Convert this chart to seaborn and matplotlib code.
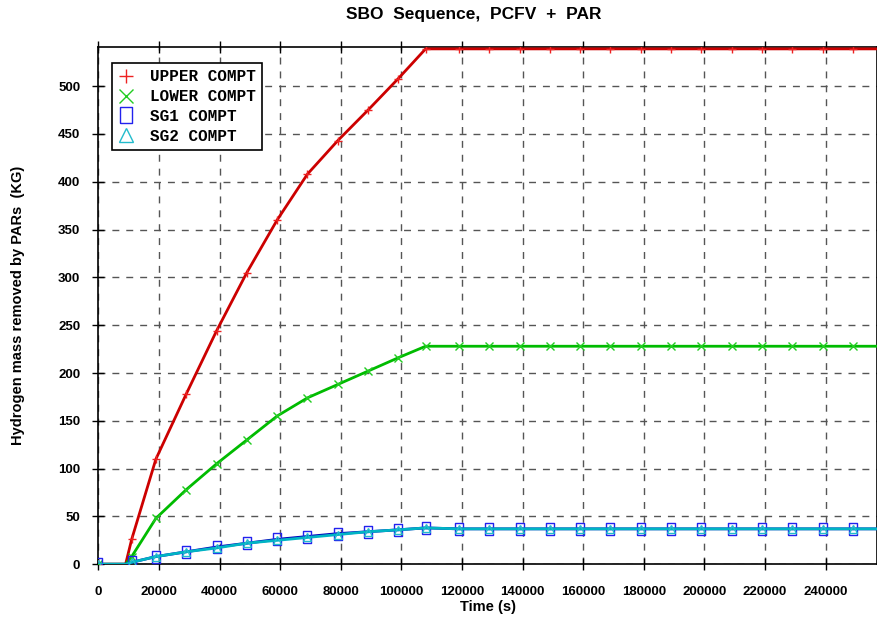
import matplotlib
matplotlib.use("Agg")
import matplotlib.pyplot as plt
import seaborn as sns
import pandas as pd
from matplotlib.lines import Line2D
from matplotlib.font_manager import FontProperties

# ---- data ----
time_s = [0, 9000, 11000, 19000, 29000, 39000, 49000, 59000, 69000, 79000, 89000, 99000,
          108000, 119000, 129000, 139000, 149000, 159000, 169000, 179000, 189000, 199000,
          209000, 219000, 229000, 239000, 249000, 257000]
upper = [0, 0, 26, 110, 178, 244, 305, 360, 408, 443, 475, 508,
         539, 539, 539, 539, 539, 539, 539, 539, 539, 539, 539, 539, 539, 539, 539, 539]
lower = [0, 0, 8, 48, 78, 105, 130, 155, 174, 188, 202, 216,
         228, 228, 228, 228, 228, 228, 228, 228, 228, 228, 228, 228, 228, 228, 228, 228]
sg1 = [0, 0, 2, 8, 13, 18, 22, 26, 29, 32, 34, 36,
       38, 37, 37, 37, 37, 37, 37, 37, 37, 37, 37, 37, 37, 37, 37, 37]
sg2 = [0, 0, 2, 8, 13, 17, 22, 25, 28, 31, 34, 36,
       38, 37, 37, 37, 37, 37, 37, 37, 37, 37, 37, 37, 37, 37, 37, 37]
series_names = ["UPPER COMPT", "LOWER COMPT", "SG1 COMPT", "SG2 COMPT"]
x_ticks = list(range(0, 240001, 20000))
y_ticks = list(range(0, 501, 50))

df = pd.DataFrame({"time": time_s, "UPPER COMPT": upper, "LOWER COMPT": lower,
                   "SG1 COMPT": sg1, "SG2 COMPT": sg2})

sns.set_theme(style="white")
plt.rcParams["font.family"] = ["Liberation Sans", "DejaVu Sans"]
plt.rcParams["text.color"] = "black"
plt.rcParams["axes.labelcolor"] = "black"
plt.rcParams["xtick.color"] = "black"
plt.rcParams["ytick.color"] = "black"

fig = plt.figure(figsize=(8.78, 6.18), dpi=100)
ax = fig.add_axes([0.112, 0.087, 0.887, 0.837])

tall_rect = [(-0.33, -0.5), (0.33, -0.5), (0.33, 0.5), (-0.33, 0.5), (-0.33, -0.5)]
line_colors = ["#cc0000", "#00bb00", "#0000bb", "#00b4c4"]
mark_colors = ["#ee2222", "#22cc22", "#2222ee", "#22bbcc"]
markers = ["+", "x", tall_rect, "^"]
msizes = [6, 6, 9, 6]
mark_idx = [0] + list(range(2, len(time_s) - 1))

for i, (name, lc, mc, mk, ms) in enumerate(zip(series_names, line_colors, mark_colors, markers, msizes)):
    filled = i < 2
    sns.lineplot(data=df, x="time", y=name, ax=ax, color=lc, linewidth=2.0,
                 marker=mk, markevery=mark_idx, markersize=ms,
                 markeredgecolor=mc, markerfacecolor=mc if filled else "none",
                 markeredgewidth=1.0, zorder=3)

ax.set_xlim(0, 257000)
ax.set_ylim(0, 541)
ax.set_xticks(x_ticks)
ax.set_yticks(y_ticks)
ax.set_xticklabels([str(v) for v in x_ticks], fontsize=9.5, fontweight="bold")
ax.set_yticklabels([str(v) for v in y_ticks], fontsize=9.5, fontweight="bold")
ax.grid(True, linestyle=(0, (5, 5)), color="#555555", linewidth=1.0)
ax.tick_params(direction="inout", length=8, width=1, color="black", top=True, right=False,
               left=True, bottom=True)
ax.tick_params(axis="x", pad=12)
ax.tick_params(axis="y", pad=9)
for s in ax.spines.values():
    s.set_color("black")
    s.set_linewidth(1.2)

ax.set_xlabel("Time (s)", fontsize=10.5, fontweight="bold", labelpad=1)
ax.set_ylabel("Hydrogen mass removed by PARs  (KG)", fontsize=10.5, fontweight="bold", labelpad=24)
fig.suptitle("SBO  Sequence,  PCFV  +  PAR", x=0.54, y=0.988, fontsize=12.5, fontweight="bold")

handles = []
for i, (mc, mk) in enumerate(zip(mark_colors, markers)):
    filled = i < 2
    handles.append(Line2D([], [], linestyle="none", marker=mk, markersize=12 if i == 2 else 10,
                          markeredgecolor=mc, markerfacecolor=mc if filled else "none",
                          markeredgewidth=1.0))
legfont = FontProperties(family="Liberation Mono", weight="bold", size=11.5)
leg = ax.legend(handles, series_names, loc="upper left", bbox_to_anchor=(0.013, 0.975),
                frameon=True, fancybox=False, edgecolor="black", framealpha=1,
                prop=legfont,
                handlelength=1.0, handletextpad=1.0, labelspacing=0.3, borderpad=0.4,
                borderaxespad=0.2)
leg.get_frame().set_linewidth(1.2)

fig.savefig("out.png", dpi=100)
